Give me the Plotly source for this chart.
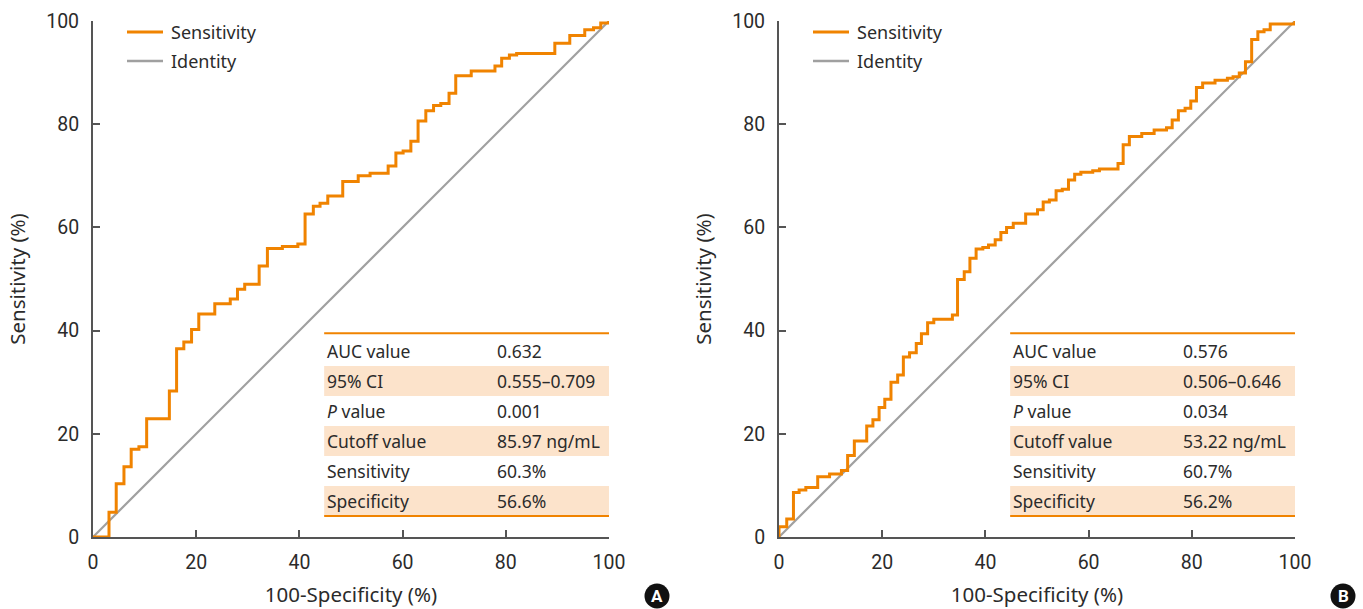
import plotly.graph_objects as go

# ---- data ----
fpr_a = [0, 3.1, 4.5, 6.0, 7.4, 8.9, 10.4, 14.8, 16.2, 17.6, 19.1, 20.5, 23.6, 26.6, 28.0, 29.4,
         32.2, 33.8, 36.7, 39.7, 41.1, 42.7, 44.0, 45.5, 48.4, 51.4, 53.7, 57.2, 58.7, 60.1,
         61.6, 63.0, 64.5, 66.0, 67.4, 69.0, 70.3, 73.3, 77.9, 79.2, 80.7, 82.1, 89.5, 92.4,
         95.3, 97.0, 98.4, 100]
tpr_a = [0, 4.8, 10.3, 13.6, 17.0, 17.5, 22.9, 28.3, 36.5, 37.8, 40.2, 43.2, 45.2, 46.1, 48.0, 49.0,
         52.5, 55.9, 56.3, 56.8, 62.6, 64.1, 64.7, 66.1, 68.9, 70.0, 70.5, 71.9, 74.4, 74.8,
         76.7, 80.6, 82.6, 83.6, 84.0, 86.0, 89.4, 90.3, 91.3, 92.8, 93.4, 93.7, 95.7, 97.2,
         98.3, 98.7, 99.6, 100]

fpr_b = [0, 0, 1.5, 2.8, 3.9, 5.2, 7.5, 9.8, 12.1, 13.3, 14.6, 17.0, 18.2, 19.4, 20.5, 21.7, 23.0,
         24.1, 25.3, 26.6, 27.6, 28.8, 30.0, 33.6, 34.6, 35.9, 37.0, 38.2, 39.5, 40.6, 41.9, 43.0,
         44.1, 45.4, 47.8, 50.1, 51.2, 52.4, 53.7, 54.9, 56.1, 57.3, 58.5, 60.8, 62.1, 65.7, 66.7,
         67.9, 70.3, 72.7, 75.1, 76.2, 77.4, 78.7, 79.8, 80.9, 82.1, 84.5, 86.9, 88.0, 89.2, 90.4,
         91.6, 92.8, 94.0, 95.2, 100]
tpr_b = [0, 2.0, 3.5, 8.6, 9.1, 9.6, 11.7, 12.2, 12.9, 15.8, 18.6, 21.5, 22.7, 25.1, 26.7, 30.0, 31.4,
         34.9, 35.7, 37.5, 39.4, 41.5, 42.2, 43.0, 49.9, 51.4, 54.0, 55.8, 56.1, 56.6, 57.6, 59.0,
         60.0, 60.8, 62.6, 63.4, 64.9, 65.3, 67.1, 67.4, 69.2, 70.3, 70.7, 71.0, 71.3, 72.4, 76.0,
         77.6, 78.2, 78.9, 79.3, 80.8, 82.6, 83.1, 84.5, 87.1, 88.0, 88.5, 88.9, 89.2, 89.9, 92.1,
         96.4, 97.9, 98.3, 99.4, 100]

identity = [0, 100]

tick_vals = [0, 20, 40, 60, 80, 100]
tick_text = ["0", "20", "40", "60", "80", "100"]

series_names = ["Sensitivity", "Identity"]
table_labels = ["AUC value", "95% CI", "<i>P</i> value", "Cutoff value", "Sensitivity", "Specificity"]
table_a = ["0.632", "0.555\u20130.709", "0.001", "85.97 ng/mL", "60.3%", "56.6%"]
table_b = ["0.576", "0.506\u20130.646", "0.034", "53.22 ng/mL", "60.7%", "56.2%"]
panel_labels = ["A", "B"]

# ---- style ----
ORANGE = "#F08300"
GREY = "#A0A0A0"
PEACH = "#FCE3CB"
TEXT = "#2b2b2b"
AXIS = "#555555"
TICKFONT = "Roboto, Arial, sans-serif"
BODYFONT = "Noto Sans, Open Sans, sans-serif"

W, H = 1363, 609
x_domains = [[93 / W, 609 / W], [779 / W, 1295 / W]]
y_domain = [1 - 537 / H, 1 - 21 / H]

fig = go.Figure()

for i, (fx, ty) in enumerate([(fpr_a, tpr_a), (fpr_b, tpr_b)]):
    xa = "x" if i == 0 else "x2"
    ya = "y" if i == 0 else "y2"
    fig.add_trace(go.Scatter(x=identity, y=identity, mode="lines", name=series_names[1],
                             line=dict(color=GREY, width=2.2), xaxis=xa, yaxis=ya,
                             cliponaxis=False, hoverinfo="skip", showlegend=False))
    fig.add_trace(go.Scatter(x=fx, y=ty, mode="lines", name=series_names[0],
                             line=dict(color=ORANGE, width=3, shape="hv"), xaxis=xa, yaxis=ya,
                             cliponaxis=False, showlegend=False))

axis_common = dict(range=[0, 100], tickvals=tick_vals, ticktext=tick_text,
                   showgrid=False, zeroline=False, showline=True, linecolor=AXIS, linewidth=2,
                   ticks="inside", ticklen=7, tickwidth=1.5, tickcolor=AXIS, automargin=False,
                   tickfont=dict(family=TICKFONT, size=19.5, color=TEXT), fixedrange=True)

layout = dict(width=W, height=H, margin=dict(l=0, r=0, t=0, b=0, pad=0, autoexpand=False),
              plot_bgcolor="white", paper_bgcolor="white", showlegend=False)

for i in range(2):
    sfx = "" if i == 0 else "2"
    xa = dict(axis_common, domain=x_domains[i], anchor="y" + sfx,
              title=dict(text="100-Specificity (%)", standoff=14,
                         font=dict(family=BODYFONT, size=20.5, color=TEXT)),
              ticklabelstandoff=7)
    ya = dict(axis_common, domain=y_domain, anchor="x" + sfx,
              title=dict(text="Sensitivity (%)", standoff=15,
                         font=dict(family=BODYFONT, size=20.5, color=TEXT)),
              ticklabelstandoff=8)
    layout["xaxis" + sfx] = xa
    layout["yaxis" + sfx] = ya

fig.update_layout(**layout)

# ---- legends (drawn per panel) ----
for i in range(2):
    left = x_domains[i][0] * W
    for k, (nm, col) in enumerate(zip(series_names, [ORANGE, GREY])):
        yy = 1 - (32 + 29 * k) / H
        fig.add_shape(type="line", xref="paper", yref="paper",
                      x0=(left + 34) / W, x1=(left + 70) / W, y0=yy, y1=yy,
                      line=dict(color=col, width=3 if k == 0 else 2.5))
        fig.add_annotation(xref="paper", yref="paper", x=(left + 76) / W, y=yy, text=nm,
                           showarrow=False, xanchor="left", yanchor="middle",
                           font=dict(family=BODYFONT, size=18, color=TEXT))

# ---- summary tables ----
row_h = 5.81
top = 39.5
x0, x1 = 44.8, 100
col1, col2 = 45.0, 77.9
for i, vals in enumerate([table_a, table_b]):
    sfx = "" if i == 0 else "2"
    xr, yr = "x" + sfx, "y" + sfx
    for r in range(6):
        yt = top - 0.55 - r * row_h
        yb = yt - row_h
        if r % 2 == 1:
            fig.add_shape(type="rect", xref=xr, yref=yr, x0=x0, x1=x1, y0=yb, y1=yt,
                          fillcolor=PEACH, line=dict(width=0), layer="below")
        yc = (yt + yb) / 2
        fig.add_annotation(xref=xr, yref=yr, x=col1, y=yc, text=table_labels[r], showarrow=False,
                           xanchor="left", yanchor="middle",
                           font=dict(family=BODYFONT, size=17.5, color=TEXT))
        fig.add_annotation(xref=xr, yref=yr, x=col2, y=yc, text=vals[r], showarrow=False,
                           xanchor="left", yanchor="middle",
                           font=dict(family=BODYFONT, size=17.5, color=TEXT))
    bottom = top - 0.55 - 6 * row_h
    for yy in (top, bottom):
        fig.add_shape(type="line", xref=xr, yref=yr, x0=x0, x1=x1, y0=yy, y1=yy,
                      line=dict(color=ORANGE, width=2))

# ---- panel badges ----
for i, lab in enumerate(panel_labels):
    cx = (657 if i == 0 else 1343) / W
    cy = 1 - 596 / H
    rx, ry = 12.5 / W, 12.5 / H
    fig.add_shape(type="circle", xref="paper", yref="paper", x0=cx - rx, x1=cx + rx,
                  y0=cy - ry, y1=cy + ry, fillcolor="#111111", line=dict(width=0))
    fig.add_annotation(xref="paper", yref="paper", x=cx, y=cy, text="<b>%s</b>" % lab,
                       showarrow=False, xanchor="center", yanchor="middle",
                       font=dict(family="Roboto, Arial, sans-serif", size=17, color="white"))

fig.write_html("out.html", post_script="document.body.style.margin='0';",
               config={"displayModeBar": False})
